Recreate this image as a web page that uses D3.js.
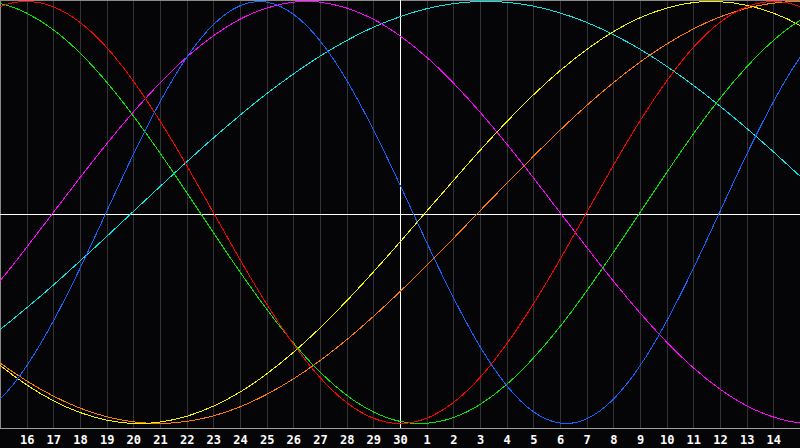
<!DOCTYPE html>
<html>
<head>
<meta charset="utf-8">
<script src="https://cdn.jsdelivr.net/npm/d3@7"></script>
<style>
  html, body { margin: 0; padding: 0; background: #050507; }
  svg { display: block; }
</style>
</head>
<body>
<svg id="chart" width="800" height="448"></svg>
<script>
// One entry per day, from day 14 (left of the visible area) to day 16 (right of it)
const dayLabels = ["14","15","16","17","18","19","20","21","22","23","24","25","26","27","28","29","30",
                   "1","2","3","4","5","6","7","8","9","10","11","12","13","14","15","16"];
// Tick labels shown under the chart
const tickLabels = ["16","17","18","19","20","21","22","23","24","25","26","27","28","29","30",
                    "1","2","3","4","5","6","7","8","9","10","11","12","13","14"];
const todayLabel = "30";

// Cycle values (-1..1) for each day of dayLabels
const physical     = [-0.978,-0.885,-0.727,-0.515,-0.265,0.005,0.275,0.524,0.735,0.890,0.980,0.997,0.940,0.814,0.627,0.393,0.131,-0.142,-0.403,-0.635,-0.820,-0.944,-0.998,-0.978,-0.885,-0.727,-0.515,-0.265,0.005,0.275,0.524,0.735,0.890];
const emotional    = [0.901,0.975,1,0.975,0.901,0.782,0.623,0.434,0.223,0,-0.223,-0.434,-0.623,-0.782,-0.901,-0.975,-1,-0.975,-0.901,-0.782,-0.623,-0.434,-0.223,0,0.223,0.434,0.623,0.782,0.901,0.975,1,0.975,0.901];
const intellectual = [0.999,0.990,0.945,0.866,0.756,0.618,0.458,0.282,0.095,-0.095,-0.282,-0.458,-0.618,-0.756,-0.866,-0.945,-0.990,-0.999,-0.972,-0.910,-0.815,-0.690,-0.541,-0.372,-0.189,0,0.189,0.372,0.541,0.690,0.815,0.910,0.972];
const intuitive    = [-0.476,-0.325,-0.165,0,0.165,0.325,0.476,0.614,0.736,0.837,0.916,0.969,0.997,0.997,0.969,0.916,0.837,0.736,0.614,0.476,0.325,0.165,0,-0.165,-0.325,-0.476,-0.614,-0.736,-0.837,-0.916,-0.969,-0.997,-0.997];
const spiritual    = [-0.649,-0.555,-0.452,-0.344,-0.230,-0.114,0.005,0.123,0.240,0.353,0.461,0.563,0.656,0.741,0.815,0.878,0.928,0.966,0.990,1.000,0.996,0.978,0.946,0.901,0.843,0.774,0.693,0.603,0.504,0.399,0.288,0.172,0.055];
const aesthetic    = [-0.616,-0.724,-0.817,-0.892,-0.948,-0.984,-1.000,-0.993,-0.966,-0.918,-0.851,-0.765,-0.663,-0.547,-0.419,-0.282,-0.140,0.006,0.151,0.294,0.430,0.557,0.672,0.772,0.857,0.923,0.969,0.995,0.999,0.982,0.945,0.887,0.810];
const awareness    = [-0.615,-0.713,-0.798,-0.870,-0.927,-0.968,-0.992,-1.000,-0.990,-0.964,-0.921,-0.862,-0.789,-0.702,-0.603,-0.493,-0.375,-0.251,-0.123,0.008,0.138,0.266,0.390,0.507,0.615,0.713,0.798,0.870,0.927,0.968,0.992,1.000,0.990];

const seriesNames  = ["spiritual","awareness","aesthetic","intuitive","intellectual","emotional","physical"];
const seriesValues = [spiritual, awareness, aesthetic, intuitive, intellectual, emotional, physical];
const seriesColors = ["#00e8e8","#ff7a00","#f4f400","#ff00ff","#00e600","#ff0000","#1464ff"];

const W = 800, H = 448;
const plotBottom = 428;
const svg = d3.select("#chart");

// background
svg.append("rect").attr("width", W).attr("height", H).attr("fill", "#050507");

// index of each day -> x ; the first visible day (index 1) at x = 0, index 31 at x = 800
const x = d3.scaleLinear().domain([1, 31]).range([0, W]);
const y = d3.scaleLinear().domain([-1, 1]).range([423.5, 1.5]);

const tickIdx = tickLabels.map((_, i) => i + 2);
const todayIdx = dayLabels.indexOf(todayLabel);

// grid
const grid = svg.append("g")
  .attr("transform", `translate(0,${plotBottom})`)
  .call(d3.axisBottom(x).tickValues(tickIdx).tickSize(-plotBottom).tickFormat(""));
grid.select(".domain").remove();
grid.selectAll(".tick line").attr("stroke", "#333336").attr("shape-rendering", "crispEdges");

// frame
svg.append("line").attr("x1", 0).attr("x2", W).attr("y1", 0.5).attr("y2", 0.5)
  .attr("stroke", "#8a8a8a").attr("shape-rendering", "crispEdges");
svg.append("line").attr("x1", 0.5).attr("x2", 0.5).attr("y1", 0).attr("y2", plotBottom)
  .attr("stroke", "#8a8a8a").attr("shape-rendering", "crispEdges");

// zero line and today line
svg.append("line").attr("x1", 0).attr("x2", W).attr("y1", 214.5).attr("y2", 214.5)
  .attr("stroke", "#ffffff").attr("shape-rendering", "crispEdges");
svg.append("line").attr("x1", Math.round(x(todayIdx)) + 0.5).attr("x2", Math.round(x(todayIdx)) + 0.5)
  .attr("y1", 0).attr("y2", plotBottom)
  .attr("stroke", "#ffffff").attr("shape-rendering", "crispEdges");

// curves
const line = d3.line()
  .x((d, i) => x(i))
  .y(d => y(d))
  .curve(d3.curveNatural);

svg.append("g").selectAll("path")
  .data(seriesValues)
  .join("path")
  .attr("d", line)
  .attr("fill", "none")
  .attr("stroke", (d, i) => seriesColors[i])
  .attr("stroke-width", 1)
  .attr("shape-rendering", "crispEdges");

// bottom axis
const axis = svg.append("g")
  .attr("transform", `translate(0,${plotBottom + 0.5})`)
  .call(d3.axisBottom(x).tickValues(tickIdx).tickSize(0).tickPadding(0)
        .tickFormat(i => dayLabels[i]));
axis.select(".domain").attr("stroke", "#a0a0a0").attr("d", `M0,0H${W}`).attr("shape-rendering", "crispEdges");
axis.selectAll("text")
  .attr("fill", "#ffffff")
  .attr("font-family", "'DejaVu Sans Mono', monospace")
  .attr("font-weight", "bold")
  .attr("font-size", 12)
  .attr("dy", null)
  .attr("y", 15.5);
</script>
</body>
</html>
